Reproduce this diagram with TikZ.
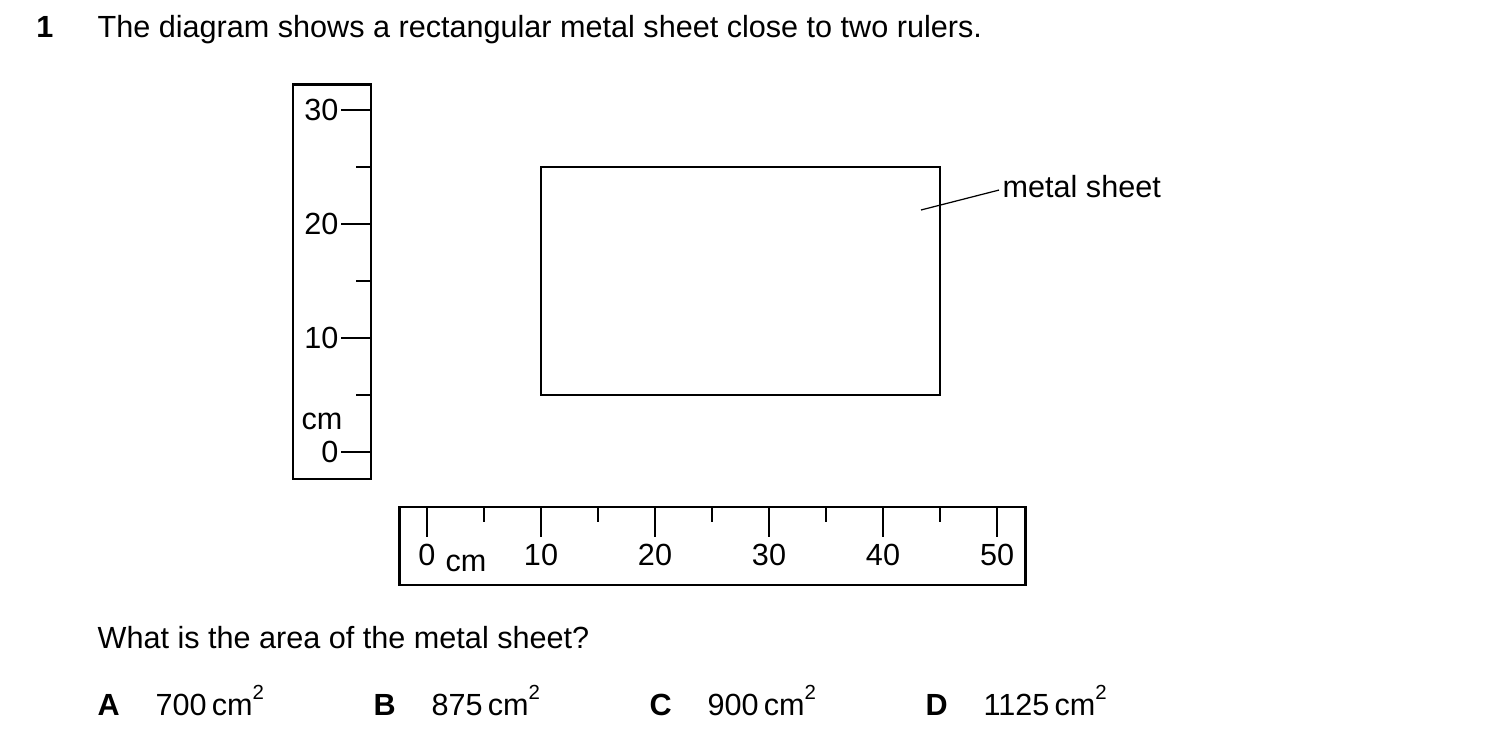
\documentclass[tikz,border=0pt]{standalone}
\usepackage{fontspec}
\setmainfont{Liberation Sans}
\usetikzlibrary{positioning}

\newcommand{\sqsup}{\raisebox{0.95ex}{\fontsize{5.8}{6}\selectfont 2}}

\tikzset{
  txt/.style={font=\fontsize{8.7}{10.4}\selectfont, inner sep=0pt},
  ruler/.style={draw=black, line width=0.85pt},
  majortick/.style={draw=black, line width=0.35pt},
  minortick/.style={draw=black, line width=0.35pt},
  sheet/.style={draw=black, line width=0.7pt}
}

\begin{document}
\begin{tikzpicture}[x=0.01cm,y=-0.01cm]
\useasboundingbox (0,0) rectangle (1500,737);

\node[txt,anchor=base] (qnum) at (45,38) {\textbf{1}};
\node[txt,anchor=base west] (question) at (97,38) {The diagram shows a rectangular metal sheet close to two rulers.};

% vertical ruler
\draw[ruler] (293,85) rectangle (371,479);
\draw[majortick] (341,110) -- (371,110);
\node[txt,anchor=east] (v30) at (339,110) {30};
\draw[minortick] (356,167) -- (371,167);
\draw[majortick] (341,224) -- (371,224);
\node[txt,anchor=east] (v20) at (339,224) {20};
\draw[minortick] (356,281) -- (371,281);
\draw[majortick] (341,338) -- (371,338);
\node[txt,anchor=east] (v10) at (339,338) {10};
\draw[minortick] (356,395) -- (371,395);
\node[txt,anchor=east] (vcm) at (343,421) {cm};
\draw[majortick] (341,452) -- (371,452);
\node[txt,anchor=east] (v0) at (339,452) {0};

% horizontal ruler
\draw[ruler] (399,507) rectangle (1025,585);
\draw[majortick] (427,507) -- (427,537);
\node[txt] (h0) at (427,555) {0};
\node[txt] (hcm) at (466,563) {cm};
\draw[minortick] (484,507) -- (484,522);
\draw[majortick] (541,507) -- (541,537);
\node[txt] (h10) at (541,555) {10};
\draw[minortick] (598,507) -- (598,522);
\draw[majortick] (655,507) -- (655,537);
\node[txt] (h20) at (655,555) {20};
\draw[minortick] (712,507) -- (712,522);
\draw[majortick] (769,507) -- (769,537);
\node[txt] (h30) at (769,555) {30};
\draw[minortick] (826,507) -- (826,522);
\draw[majortick] (883,507) -- (883,537);
\node[txt] (h40) at (883,555) {40};
\draw[minortick] (940,507) -- (940,522);
\draw[majortick] (997,507) -- (997,537);
\node[txt] (h50) at (997,555) {50};

% metal sheet
\draw[sheet] (541,167) rectangle (940,395);
\coordinate (tip) at (921,210);
\node[txt,anchor=base west] (label) at (1002,198) {metal sheet};
\draw[majortick] (tip) -- ([xshift=-0.03cm,yshift=-0.03cm]label.west);

\node[txt,anchor=base west] (ask) at (97,648) {What is the area of the metal sheet?};

\node[txt,anchor=base west] (optA) at (97,715) {\textbf{A}};
\node[txt,anchor=base west] (valA) at (155,715) {700\,cm\sqsup};
\node[txt,anchor=base west] (optB) at (373,715) {\textbf{B}};
\node[txt,anchor=base west] (valB) at (431,715) {875\,cm\sqsup};
\node[txt,anchor=base west] (optC) at (649,715) {\textbf{C}};
\node[txt,anchor=base west] (valC) at (707,715) {900\,cm\sqsup};
\node[txt,anchor=base west] (optD) at (925,715) {\textbf{D}};
\node[txt,anchor=base west] (valD) at (983,715) {1125\,cm\sqsup};

\end{tikzpicture}
\end{document}
